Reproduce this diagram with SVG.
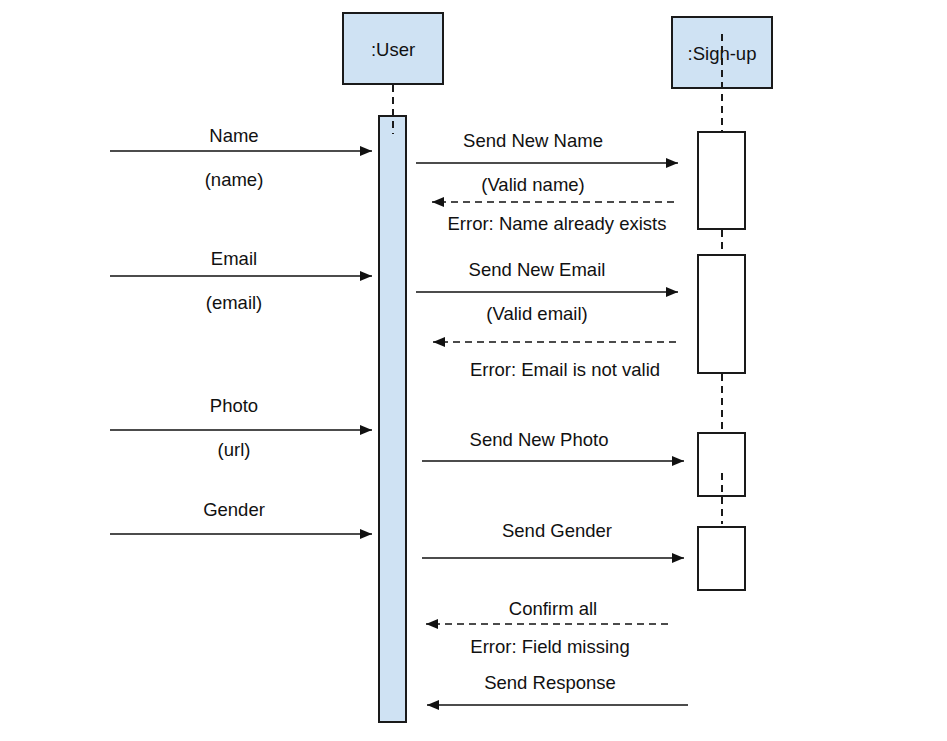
<svg xmlns="http://www.w3.org/2000/svg" width="947" height="741" viewBox="0 0 947 741">
<defs>
<marker id="ah" viewBox="0 0 12 10" refX="12" refY="5" markerWidth="12" markerHeight="10" markerUnits="userSpaceOnUse" orient="auto">
<path d="M0,0 L12,5 L0,10 Z" fill="#111"/>
</marker>
</defs>
<style>
.obj{fill:#cfe2f3;stroke:#1a1a1a;stroke-width:2}
.act{fill:#ffffff;stroke:#1a1a1a;stroke-width:2}
.actu{fill:#cfe2f3;stroke:#1a1a1a;stroke-width:2}
.life{stroke:#1a1a1a;stroke-width:2;stroke-dasharray:7,5;fill:none}
.msg{stroke:#111;stroke-width:1.6;fill:none;marker-end:url(#ah)}
.ret{stroke:#111;stroke-width:1.6;fill:none;stroke-dasharray:7,5;marker-end:url(#ah)}
text{font-family:"Liberation Sans",Arial,sans-serif;font-size:18.5px;fill:#111;text-anchor:middle}
</style>
<rect width="947" height="741" fill="#ffffff"/>
<g id="user">
<rect class="obj" x="343" y="13" width="100" height="71"/>
<text x="393" y="56">:User</text>
<rect class="actu" x="379" y="116" width="27" height="606"/>
<path class="life" d="M393,85 V134"/>
</g>
<g id="signup">
<rect class="obj" x="672" y="17" width="100" height="71"/>
<text x="722" y="60">:Sign-up</text>
<path class="life" d="M722,34 V132"/>
<rect class="act" x="698" y="132" width="47" height="97"/>
<path class="life" d="M722,230 V255"/>
<rect class="act" x="698" y="255" width="47" height="118"/>
<path class="life" d="M722,374 V433"/>
<rect class="act" x="698" y="433" width="47" height="63"/>
<path class="life" d="M722,473 V524"/>
<rect class="act" x="698" y="527" width="47" height="63"/>
</g>
<g id="connectors">
<path class="msg" d="M110,151 H372"/>
<path class="msg" d="M110,276 H372"/>
<path class="msg" d="M110,430 H372"/>
<path class="msg" d="M110,534 H372"/>
<path class="msg" d="M416,163 H678"/>
<path class="ret" d="M674,202 H432"/>
<path class="msg" d="M416,292 H678"/>
<path class="ret" d="M676,342 H433"/>
<path class="msg" d="M422,461 H684"/>
<path class="msg" d="M422,558 H684"/>
<path class="ret" d="M668,624 H426"/>
<path class="msg" d="M688,705 H427"/>
</g>
<g id="labels">
<text x="234" y="142">Name</text>
<text x="234" y="186">(name)</text>
<text x="234" y="265">Email</text>
<text x="234" y="309">(email)</text>
<text x="234" y="412">Photo</text>
<text x="234" y="456">(url)</text>
<text x="234" y="516">Gender</text>
<text x="533" y="147">Send New Name</text>
<text x="533" y="191">(Valid name)</text>
<text x="557" y="230">Error: Name already exists</text>
<text x="537" y="276">Send New Email</text>
<text x="537" y="320">(Valid email)</text>
<text x="565" y="376">Error: Email is not valid</text>
<text x="539" y="446">Send New Photo</text>
<text x="557" y="537">Send Gender</text>
<text x="553" y="615">Confirm all</text>
<text x="550" y="653">Error: Field missing</text>
<text x="550" y="689">Send Response</text>
</g>
</svg>
